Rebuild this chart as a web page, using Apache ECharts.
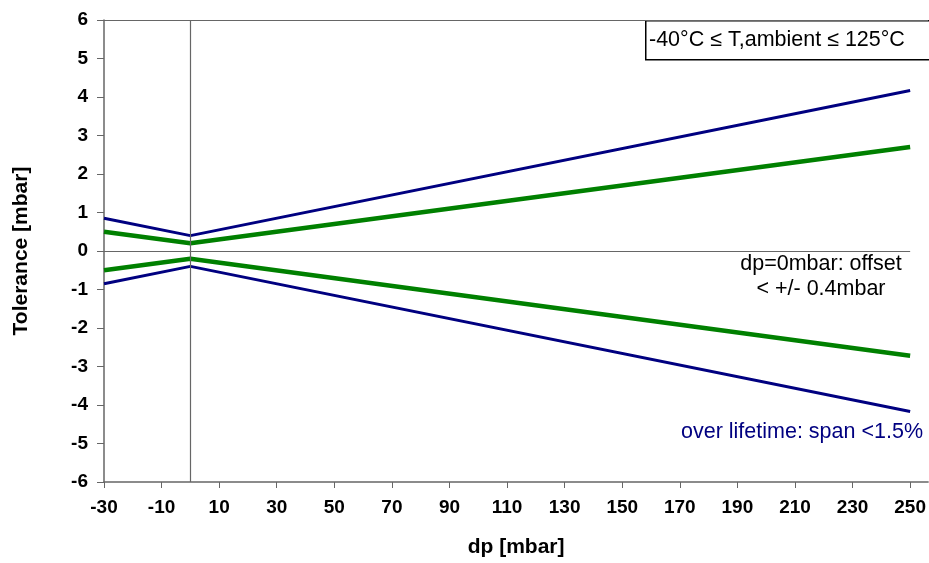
<!DOCTYPE html>
<html>
<head>
<meta charset="utf-8">
<script src="https://cdn.jsdelivr.net/npm/echarts@6/dist/echarts.min.js"></script>
<style>
  html, body { margin: 0; padding: 0; background: #fff; }
  #chart { width: 929px; height: 563px; }
</style>
</head>
<body>
<div id="chart"></div>
<script>
// dp [mbar] points of the tolerance curves
var dpPoints = [-30, 0, 250]
var blueUpper = [0.85, 0.4, 4.17]
var blueLower = [-0.85, -0.4, -4.17]
var greenUpper = [0.5, 0.2, 2.7]
var greenLower = [-0.5, -0.2, -2.72]
// tick labels
var xTicks = [-30, -10, 10, 30, 50, 70, 90, 110, 130, 150, 170, 190, 210, 230, 250]
var yTicks = [-6, -5, -4, -3, -2, -1, 0, 1, 2, 3, 4, 5, 6]

var FONT = '"Liberation Sans", Arial, sans-serif'
var BLUE = '#000080'
var GREEN = '#008000'

function pairs(ys) {
  return dpPoints.map(function (x, i) { return [x, ys[i]] })
}

var myChart = echarts.init(document.getElementById('chart'))
myChart.setOption({
  animation: false,
  backgroundColor: '#fff',
  grid: { left: 104, top: 20, right: 0, bottom: 81 },
  xAxis: {
    type: 'value',
    min: -30,
    max: 256.25,
    name: 'dp [mbar]',
    nameLocation: 'middle',
    nameGap: 55,
    nameTextStyle: { fontFamily: FONT, fontWeight: 'bold', fontSize: 21, color: '#000' },
    axisLine: { show: true, onZero: false, lineStyle: { color: '#666', width: 1.5 } },
    axisTick: { show: true, length: 6, customValues: xTicks, lineStyle: { color: '#666' } },
    axisLabel: {
      customValues: xTicks, margin: 16,
      fontFamily: FONT, fontWeight: 'bold', fontSize: 19, color: '#000'
    },
    splitLine: { show: false }
  },
  yAxis: {
    type: 'value',
    min: -6,
    max: 6,
    interval: 1,
    name: 'Tolerance [mbar]',
    nameLocation: 'middle',
    nameGap: 72,
    nameTextStyle: { fontFamily: FONT, fontWeight: 'bold', fontSize: 21, color: '#000' },
    axisLine: { show: true, onZero: false, lineStyle: { color: '#666', width: 1.5 } },
    axisTick: { show: true, length: 7, inside: false, customValues: yTicks, lineStyle: { color: '#666' } },
    axisLabel: {
      customValues: yTicks, margin: 16,
      fontFamily: FONT, fontWeight: 'bold', fontSize: 19, color: '#000'
    },
    splitLine: { show: false }
  },
  series: [
    {
      name: 'ref', type: 'line', data: [], silent: true,
      markLine: {
        symbol: 'none', silent: true, label: { show: false },
        lineStyle: { color: '#666', width: 1.2, type: 'solid' },
        data: [
          [{ coord: [-30, 0] }, { coord: [250, 0] }],
          [{ coord: [0, -6] }, { coord: [0, 6] }],
          [{ coord: [-30, 6] }, { coord: [256.25, 6] }]
        ]
      }
    },
    { name: 'blueUpper', type: 'line', data: pairs(blueUpper), showSymbol: false, lineStyle: { color: BLUE, width: 3 } },
    { name: 'blueLower', type: 'line', data: pairs(blueLower), showSymbol: false, lineStyle: { color: BLUE, width: 3 } },
    { name: 'greenUpper', type: 'line', data: pairs(greenUpper), showSymbol: false, lineStyle: { color: GREEN, width: 4.5 } },
    { name: 'greenLower', type: 'line', data: pairs(greenLower), showSymbol: false, lineStyle: { color: GREEN, width: 4.5 } }
  ],
  graphic: [
    {
      type: 'rect', left: 645, top: 20,
      shape: { width: 300, height: 39 },
      style: { fill: '#fff', stroke: '#000', lineWidth: 1.5 }
    },
    {
      type: 'text', x: 649, y: 40,
      style: { text: '-40°C ≤ T,ambient ≤ 125°C', verticalAlign: 'middle', fontFamily: FONT, fontSize: 21.5, fill: '#000' }
    },
    {
      type: 'text', x: 821, y: 277,
      style: {
        text: 'dp=0mbar: offset\n< +/- 0.4mbar', align: 'center', verticalAlign: 'middle',
        lineHeight: 25, fontFamily: FONT, fontSize: 21.5, fill: '#000'
      }
    },
    {
      type: 'text', x: 923, y: 432,
      style: {
        text: 'over lifetime: span <1.5%', align: 'right', verticalAlign: 'middle',
        fontFamily: FONT, fontSize: 21.5, fill: BLUE
      }
    }
  ]
})
</script>
</body>
</html>
